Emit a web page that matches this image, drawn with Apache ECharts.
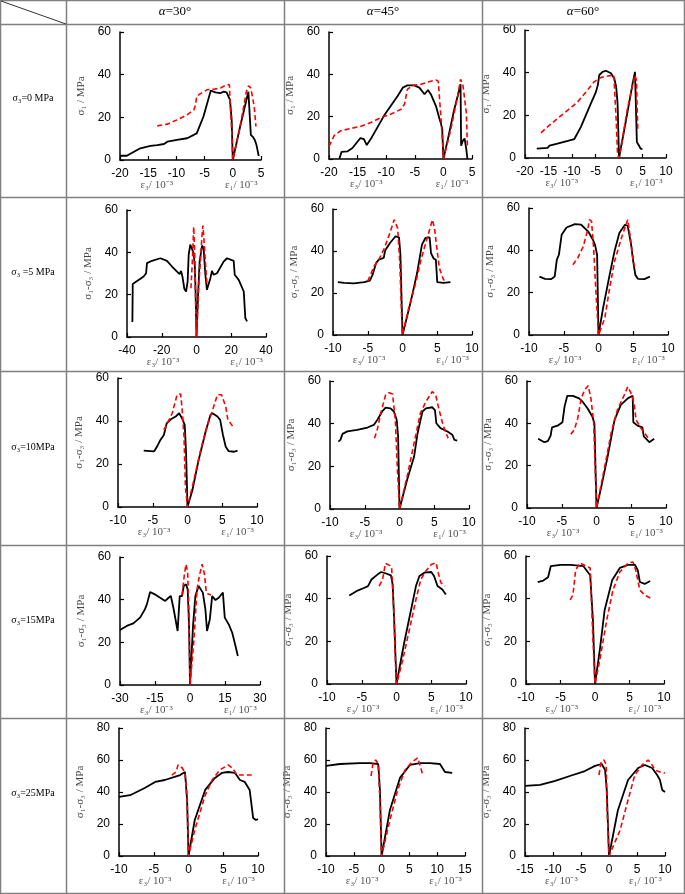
<!DOCTYPE html>
<html><head><meta charset="utf-8">
<script src="https://cdn.jsdelivr.net/npm/echarts/dist/echarts.min.js"></script>
<style>html,body{margin:0;padding:0;background:#fff}#c{width:685px;height:894px}</style>
</head><body><div id="c"></div>
<script>
// ---------- header / row labels ----------
const colHeaders = ['30°', '45°', '60°'];
const rowLabels = ['σ₃=0 MPa', 'σ₃ =5 MPa', 'σ₃=10MPa', 'σ₃=15MPa', 'σ₃=25MPa'];
const yNames = ['σ₁ / MPa', 'σ₁-σ₃ / MPa', 'σ₁-σ₃ / MPa', 'σ₁-σ₃ / MPa', 'σ₁-σ₃ / MPa'];

// ---------- axis ranges per panel: [xMin, xMax, xInterval, yMax, yInterval] ----------
const axisRanges = [
  [-20, 5, 5, 60, 20], [-20, 5, 5, 60, 20], [-20, 10, 5, 60, 20],
  [-40, 40, 20, 60, 20], [-10, 10, 5, 60, 20], [-10, 10, 5, 60, 20],
  [-10, 10, 5, 60, 20], [-10, 10, 5, 60, 20], [-10, 10, 5, 60, 20],
  [-30, 30, 15, 60, 20], [-10, 10, 5, 60, 20], [-10, 10, 5, 60, 20],
  [-10, 10, 5, 80, 20], [-10, 15, 5, 80, 20], [-15, 10, 5, 80, 20]
];

// ---------- data: [strain (10^-3), stress (MPa)] ----------
const p11Black = [[-20,2],[-18.8,2],[-16.4,5.5],[-14.6,6.6],[-13.4,7],[-12.2,7.5],[-11.6,8.6],[-9.9,9.4],[-8.1,10.2],[-6.9,11.8],[-6.4,12.5],[-5.2,20.4],[-3.9,32.6],[-3.1,31.7],[-2.2,31.3],[-1.6,32.1],[-1.1,31.7],[-0.5,28.2],[-0.2,18.8],[0,0],[1.3,15.7],[2.76,32],[3.06,32.6],[3.2,11.8],[3.6,10.7],[3.9,9.4],[4.2,7],[4.5,6.6],[4.6,1.9]];
const p11Red = [[-13.4,16],[-11.6,16.8],[-9.9,18.8],[-8.1,21.2],[-6.9,23.5],[-6.6,25.9],[-6.4,29.8],[-5.8,31],[-4.6,32.9],[-3.4,33.2],[-2.2,33.7],[-1.1,35.3],[-0.6,35.3],[-0.5,28.2],[-0.2,14],[0,0],[1.3,15.7],[2.4,32],[2.8,34.8],[3.2,33.7],[3.5,33],[3.8,25],[4.1,15.7]];
const p12Black = [[-18.2,0],[-17.8,3.4],[-16.8,3.6],[-15.9,5.2],[-14.5,9.9],[-13.9,9.4],[-13.4,6.6],[-12.7,9.4],[-10.4,20.4],[-8.0,29.8],[-7.1,33.7],[-6.3,34.8],[-5.1,34.8],[-4.2,33.7],[-3.3,30.6],[-2.7,32.6],[-2.2,30.6],[-1.3,25],[-0.7,19.1],[-0.4,16.5],[-0.2,14],[0,0],[0.76,9.1],[1.9,23.5],[2.5,29.8],[3.0,35.3],[3.1,6.3],[3.4,8.6],[3.7,9.7],[4.0,4.7],[4.2,0]];
const p12Red = [[-20,6],[-19.1,11],[-18,13.3],[-16.2,14.4],[-14.5,15.4],[-12.7,17.2],[-10.9,19.6],[-9.2,21.2],[-7.4,23.5],[-6.8,25.9],[-6.3,32.9],[-5.4,34.8],[-3.9,35.3],[-2.7,36.4],[-1.3,37.3],[-0.9,36.8],[-0.4,18.5],[-0.1,6],[0,0],[1.3,14],[2.5,29.8],[3.0,37.6],[3.4,35.3],[3.7,34.5],[4.0,22],[4.2,6]];
const p13Black = [[-17.5,4.4],[-15.2,4.7],[-14.8,5.8],[-13.1,6.7],[-10.9,8],[-9.5,8.9],[-8.1,14.6],[-6.0,25.5],[-4.9,31],[-4.5,34.2],[-4.2,38.9],[-3.5,40.4],[-2.8,40.9],[-1.7,39.7],[-1.0,37.3],[-0.6,33.4],[-0.3,25.5],[0,0],[1.1,13],[2.2,26.3],[2.9,35],[3.4,40.4],[3.6,40],[3.8,7.5],[4.2,6],[4.6,4.4],[5.0,4.1]];
const p13Red = [[-16.6,11.8],[-15.2,14.6],[-13.1,18.5],[-10.9,22.4],[-8.8,26.3],[-6.7,31.8],[-5.3,35.7],[-3.8,37.8],[-2.4,38.4],[-1.1,38.9],[-0.9,38.1],[-0.6,17.7],[-0.3,1.3],[0,0],[0.8,9.9],[1.8,23.2],[2.9,34.2],[3.4,38.9],[3.7,36.5],[4.0,13]];
const p21Black = [[-36.9,7.1],[-36.7,25],[-34.2,26.5],[-30.4,28.6],[-29,30.1],[-28.5,34.9],[-25.6,36],[-20.8,37.2],[-17,36],[-14.1,33.3],[-11.2,30.9],[-9.7,29.7],[-8.9,31.2],[-8.1,28.6],[-7.0,22.8],[-6.0,21.5],[-5.1,26.2],[-4.5,38.8],[-3.6,43.6],[-2.6,43.2],[-1.6,39.6],[-0.9,32.5],[-0.5,20],[0,0],[0.9,20],[1.8,35.6],[3.2,43.2],[4.1,41.9],[5.1,29.4],[6.0,22.3],[7.0,21.5],[8.0,27.8],[8.9,31.2],[9.9,29.4],[11.8,30.1],[15.6,35.6],[17.6,37.2],[21.4,36],[22,29.4],[24.3,27],[27.2,21.5],[28.1,8.9],[29.1,7.4]];
const p21Red = [[-3.2,23],[-2.4,35.6],[-1.6,52.1],[-1.1,51.3],[-0.9,35.6],[-0.3,7.4],[0,0],[1.2,23],[2.2,35.6],[3.2,48.2],[3.7,52.6],[4.1,48.2],[5.1,35.6],[6.0,25.4]];
const p22Black = [[-9.3,25.2],[-8.4,24.8],[-7.0,24.6],[-5.5,25.2],[-4.7,25.9],[-4.3,28.7],[-3.8,34.3],[-3.4,35.9],[-2.7,36.7],[-2.5,40.2],[-1.8,43.8],[-1.0,47],[-0.5,46.5],[-0.3,38.3],[-0.2,25.6],[0,0],[1.2,16],[2.1,29.5],[2.8,43],[3.3,46.2],[3.9,46.5],[4.1,39],[4.5,36.3],[4.8,35.9],[5.0,25.2],[5.9,24.8],[6.9,25.2]];
const p22Red = [[-5.0,25.6],[-4.1,32.7],[-3.4,35.9],[-2.6,41.4],[-1.9,47.8],[-1.2,54.9],[-0.7,50.9],[-0.4,35.1],[-0.1,6.5],[0,0],[0.9,12.9],[1.9,24.8],[2.6,35.1],[3.3,43.3],[3.9,50.2],[4.3,54.9],[4.6,50.9],[5.0,39.8],[5.3,31.9],[5.9,26.3],[6.4,25.2]];
const p23Black = [[-8.5,27.6],[-7.7,26.5],[-6.8,26.4],[-6.3,27.6],[-6.0,35.5],[-5.7,37.9],[-5.3,47.4],[-4.6,50.8],[-3.4,52.4],[-2.5,52.1],[-1.5,49],[-0.8,45],[-0.5,42.6],[-0.2,37.9],[0,0],[0.65,12.6],[1.6,28.4],[2.3,39.5],[3.0,48.2],[3.8,52.1],[4.2,51.6],[4.7,42.6],[5.0,34.7],[5.3,28.4],[5.7,26.5],[6.6,26.4],[7.4,27.6]];
const p23Red = [[-3.7,33.2],[-3.0,36.3],[-2.2,41.8],[-1.6,49],[-1.3,54.5],[-1.0,53.7],[-0.7,41.1],[-0.4,22.1],[0,0],[0.9,7.9],[1.6,22.1],[2.3,34.7],[3.3,45.8],[4.2,54.5],[4.6,45.8],[5.0,34.7],[5.2,32.4]];
const p31Black = [[-6.3,26.2],[-4.8,25.9],[-4.4,28],[-3.9,31.2],[-3.4,33.5],[-3.0,38.9],[-2.4,40.8],[-1.7,42.1],[-1.2,43.6],[-0.8,41.3],[-0.4,38.2],[-0.2,24.9],[0,0],[0.7,7.8],[1.6,21.8],[2.6,35],[3.3,42.8],[3.6,43.6],[4.3,42.1],[4.7,40.5],[5.1,33.5],[5.5,28],[5.9,26],[6.7,25.7],[7.2,26.2]];
const p31Red = [[-3.4,35.8],[-2.9,38.9],[-2.2,43.6],[-1.5,52.2],[-1.0,52.6],[-0.8,46.7],[-0.5,32.7],[-0.3,9.3],[0,0],[0.8,10.9],[1.9,26.5],[2.8,37.4],[3.7,46],[4.3,52.2],[4.9,52.2],[5.5,46.7],[5.8,40.5],[6.2,38.9],[6.7,36.6]];
const p32Black = [[-8.8,31.6],[-8.5,32.4],[-8.2,35.2],[-7.5,36.4],[-6.1,37.1],[-4.6,38.2],[-3.7,39.4],[-3.2,41.7],[-2.5,45.7],[-2.0,47.5],[-1.3,47.2],[-0.8,45.7],[-0.4,41.7],[-0.2,34],[0,0],[1.1,13.7],[2.1,24.6],[2.6,35.5],[3.3,45.7],[3.8,47.2],[4.7,47.7],[5.1,46.4],[5.3,40.2],[5.9,37.9],[6.9,36.3],[7.6,34.8],[7.9,32.4],[8.3,32.1]];
const p32Red = [[-3.6,33.2],[-3.2,37.1],[-2.7,44.9],[-2.0,53.5],[-1.5,54.5],[-1.0,53.9],[-0.6,41.7],[-0.3,18.4],[0,0],[1.1,15.3],[2.3,34],[3.0,44.9],[3.8,50.3],[4.7,55],[5.2,53.5],[5.7,46.4],[6.2,40.2],[6.6,36.3],[7.0,33.2]];
const p33Black = [[-8.4,32.7],[-7.5,31.1],[-7.0,31.6],[-6.6,34.2],[-6.4,38.1],[-5.6,38.9],[-4.9,40.5],[-4.6,47.9],[-4.2,53],[-3.4,53],[-2.5,51.8],[-2.0,50.2],[-1.3,47.1],[-0.6,43.2],[-0.3,40],[0,0],[0.65,9.4],[1.6,24.3],[2.6,41.6],[3.5,48.7],[4.5,51.8],[5.2,53],[5.3,40.5],[5.9,38.9],[6.6,38.1],[6.8,33.8],[7.6,31.1],[8.3,32.7]];
const p33Red = [[-3.7,34.9],[-3.2,36.9],[-2.7,42.4],[-2.2,51.8],[-1.7,55.8],[-1.2,57.8],[-0.8,51.8],[-0.4,40.1],[0,0],[1.1,18.1],[2.1,35.3],[3.0,46.3],[4.0,53.4],[4.5,57.3],[5.1,53.4],[5.4,49.5],[5.7,41.6],[6.4,37.7],[7.1,34.6],[7.6,32.2]];
const p41Black = [[-30,25.8],[-27.1,27.7],[-24.3,28.9],[-21.4,31.6],[-19.3,35.5],[-18.5,37.8],[-17.1,43.6],[-15.1,42.5],[-12.8,40.9],[-10.6,39.4],[-9.2,40.9],[-8.2,41.7],[-7.0,35.5],[-5.3,25.3],[-4.4,41.7],[-3.4,41.7],[-2.7,46.4],[-1.7,47.2],[-1.0,44.8],[-0.4,27.7],[0,0],[1.3,27.7],[2.3,41.7],[3.7,46.4],[4.4,47.2],[5.5,43.3],[6.6,35.5],[7.3,25.3],[8.5,30.8],[9.5,41.7],[10.9,39.8],[12.3,40.9],[14.1,43.3],[14.9,31.6],[16.6,28.4],[18.1,24.5],[19.5,18.3],[20.5,13.6]];
const p41Red = [[-3.4,42],[-2.4,51.9],[-1.7,56.6],[-1.0,52.7],[-0.4,32.3],[0,0],[1.6,19.8],[3.0,44.8],[4.0,51.1],[5.2,56.6],[6.2,51.9],[7.0,43.3],[8.0,42.5],[9.0,42.2]];
const p42Black = [[-6.8,41.5],[-6.3,42.4],[-5.6,43.8],[-4.6,45.1],[-4.1,45.9],[-3.6,49],[-2.7,51.4],[-2.2,52.5],[-1.5,51.8],[-0.8,50.9],[-0.55,46.6],[-0.3,27],[0,0],[1.1,19.2],[2.1,34.9],[2.8,45.9],[3.3,50.6],[4.0,52.2],[5.0,52.5],[5.4,50.6],[5.9,45.9],[6.6,44.3],[7.1,41.9]];
const p42Red = [[-2.5,45.9],[-2.0,49],[-1.6,56.5],[-1.0,55.6],[-0.7,54.5],[-0.4,34.9],[-0.2,14.4],[0,0],[0.9,11.3],[1.8,24.7],[2.8,39.6],[3.5,49],[4.2,52.9],[5.0,56],[5.7,56.8],[6.0,52.2],[6.4,47.4],[7.0,45.9]];
const p43Black = [[-8.3,47.8],[-7.5,48.5],[-6.8,50],[-6.4,55.3],[-5,55.8],[-3.5,55.8],[-1.7,55.3],[-0.7,51],[-0.3,30],[0,0],[0.7,16],[1.4,34.7],[2.5,48.8],[3.6,54.4],[4.8,55.8],[5.8,55.8],[6.2,53.4],[6.5,47.8],[7.2,46.9],[8.0,48.3]];
const p43Red = [[-3.6,39.4],[-3.2,41.7],[-2.8,53.4],[-2.2,56.7],[-1.6,55.8],[-0.7,54.4],[-0.3,20.6],[0,0],[0.7,11.3],[1.7,30],[2.6,44],[3.6,52.5],[4.8,56.7],[5.5,57.2],[5.9,53.4],[6.5,44],[7.2,41.7],[8.0,40.3]];
const p51Black = [[-10,36.9],[-8.4,38],[-6.3,42.5],[-4.8,46.3],[-3.4,47.5],[-2.0,49.4],[-1.2,50.6],[-0.5,52.5],[-0.2,35],[0,0],[0.9,22.5],[2.4,41.3],[3.8,48.8],[4.8,51.9],[5.7,52.5],[6.7,51.9],[7.4,47.5],[8.1,46.3],[8.8,41.3],[9.3,23.8],[9.7,22.5],[10,23]];
const p51Red = [[-2.4,50.6],[-1.8,52.5],[-1.5,56.9],[-0.9,55],[-0.5,51.9],[-0.2,35],[0,0],[0.9,16.3],[2.4,38.1],[3.4,47.5],[4.5,53.8],[5.7,56.9],[6.3,55],[7.0,50.6],[7.7,50.6],[8.6,50.6],[9.1,50.6]];
const p52Black = [[-10,56.3],[-7.5,57.5],[-3.9,58.1],[-2.1,58.1],[-0.6,57.5],[-0.3,41.3],[0,0],[1.5,28.8],[3.3,48.8],[5.1,56.9],[6.9,58.1],[8.7,58.1],[10.5,57.5],[11.4,52.5],[12.7,51.9]];
const p52Red = [[-1.9,50],[-1.5,58.8],[-1.0,60],[-0.6,56.9],[-0.3,35],[0,0],[1.5,22.5],[2.9,41.3],[4.2,53.8],[5.5,58.8],[6.5,61.3],[6.9,56.9],[7.4,50.6]];
const p53Black = [[-15,43.8],[-12.3,44.4],[-9.6,46.9],[-7.0,50],[-4.3,53.1],[-2.5,56.3],[-1.3,57.5],[-0.7,53.8],[-0.4,41.3],[0,0],[1.6,28.8],[3.4,47.5],[5.2,55],[6.4,56.9],[7.7,55],[8.6,50.6],[9.1,47.5],[9.5,41.3],[10,40]];
const p53Red = [[-1.8,50.6],[-1.4,58.8],[-0.9,60],[-0.5,56.9],[-0.4,35],[0,0],[2.0,16.3],[3.4,35],[4.6,50.6],[5.9,56.9],[7.0,60],[7.7,56.9],[8.2,53.8],[9.1,52.5],[10,51.9]];

const blackSeries = [p11Black,p12Black,p13Black,p21Black,p22Black,p23Black,p31Black,p32Black,p33Black,p41Black,p42Black,p43Black,p51Black,p52Black,p53Black];
const redSeries = [p11Red,p12Red,p13Red,p21Red,p22Red,p23Red,p31Red,p32Red,p33Red,p41Red,p42Red,p43Red,p51Red,p52Red,p53Red];

// ---------- layout (pixels): [left, right, top, bottom] of each plot area ----------
const layout = [
  [120,261,32,160],[329,472,32,159],[525,666,30,158],
  [127,266,210,337],[333,472,209,335],[529,668,208,335],
  [118,257,378,507],[330,469,381,509],[527,666,381,508],
  [120,260,557,685],[327,466,556,684],[526,664,556,684],
  [119,258,728,856],[326,465,728,856],[525,665,728,856]
];
const colX = [0, 66, 284, 482, 684];
const rowY = [0, 24, 197, 371, 545, 718, 893];
const rowLabelY = [98, 272, 447, 620, 793];

const chart = echarts.init(document.getElementById('c'), null, {renderer: 'canvas'});
const grids = [], xAxes = [], yAxes = [], series = [], graphics = [];
const SERIF = '"Liberation Serif","Times New Roman",serif';
const SANS = '"Liberation Sans",Arial,sans-serif';

layout.forEach((r, i) => {
  const [l, rt, t, b] = r;
  const ar = axisRanges[i];
  grids.push({left: l, top: t, width: rt - l, height: b - t, containLabel: false});
  xAxes.push({
    gridIndex: i, type: 'value', min: ar[0], max: ar[1], interval: ar[2],
    axisLine: {show: true, onZero: false, lineStyle: {color: '#000', width: 1.5}},
    axisTick: {show: true, inside: true, length: 4, lineStyle: {color: '#000', width: 1.2}},
    axisLabel: {color: '#000', fontSize: 12, fontFamily: SANS, margin: 8},
    splitLine: {show: false}
  });
  yAxes.push({
    gridIndex: i, type: 'value', min: 0, max: ar[3], interval: ar[4],
    axisLine: {show: true, onZero: false, lineStyle: {color: '#000', width: 1.5}},
    axisTick: {show: true, inside: true, length: 4, lineStyle: {color: '#000', width: 1.2}},
    axisLabel: {color: '#000', fontSize: 12, fontFamily: SANS, margin: 9},
    splitLine: {show: false},
    name: yNames[Math.floor(i / 3)], nameLocation: 'middle', nameGap: 33, nameRotate: 90,
    nameTextStyle: {color: '#444', fontSize: 11, fontFamily: SERIF}
  });
  series.push({
    type: 'line', xAxisIndex: i, yAxisIndex: i, data: blackSeries[i],
    showSymbol: false, symbol: 'none', z: 2, animation: false,
    lineStyle: {color: '#000', width: 1.8}
  });
  series.push({
    type: 'line', xAxisIndex: i, yAxisIndex: i, data: redSeries[i],
    showSymbol: false, symbol: 'none', z: 3, animation: false,
    lineStyle: {color: '#ff0000', width: 1.6, type: [5, 3]}
  });
  const w = rt - l;
  graphics.push({type: 'text', x: l + 0.26 * w, y: b + 25, z: 10,
    style: {text: 'ε₃/ 10⁻³', font: '11px ' + SERIF, fill: '#555', textAlign: 'center', textVerticalAlign: 'middle'}});
  graphics.push({type: 'text', x: l + 0.86 * w, y: b + 25, z: 10,
    style: {text: 'ε₁/ 10⁻³', font: '11px ' + SERIF, fill: '#555', textAlign: 'center', textVerticalAlign: 'middle'}});
});

// table lines
const lineStyle = {stroke: '#808080', lineWidth: 1.5};
colX.forEach(x => graphics.push({type: 'line', z: 20, shape: {x1: x + 0.5, y1: 0, x2: x + 0.5, y2: 894}, style: lineStyle}));
rowY.forEach(y => graphics.push({type: 'line', z: 20, shape: {x1: 0, y1: y + 0.5, x2: 685, y2: y + 0.5}, style: lineStyle}));
graphics.push({type: 'line', z: 20, shape: {x1: 1, y1: 1, x2: 66, y2: 24}, style: {stroke: '#333', lineWidth: 1}});
// headers
colHeaders.forEach((h, j) => {
  graphics.push({type: 'text', z: 20, x: (colX[j + 1] + colX[j + 2]) / 2, y: 12,
    style: {text: '{a|α}=' + h, rich: {a: {fontStyle: 'italic', fontFamily: SERIF, fontSize: 13, fill: '#000'}},
      font: '13px ' + SERIF, fill: '#000', textAlign: 'center', textVerticalAlign: 'middle'}});
});
rowLabels.forEach((t, k) => {
  graphics.push({type: 'text', z: 20, x: 33, y: rowLabelY[k],
    style: {text: t, font: '10px ' + SERIF, fill: '#000', textAlign: 'center', textVerticalAlign: 'middle'}});
});

chart.setOption({
  animation: false,
  backgroundColor: '#fff',
  grid: grids, xAxis: xAxes, yAxis: yAxes, series: series, graphic: graphics
});
</script></body></html>
